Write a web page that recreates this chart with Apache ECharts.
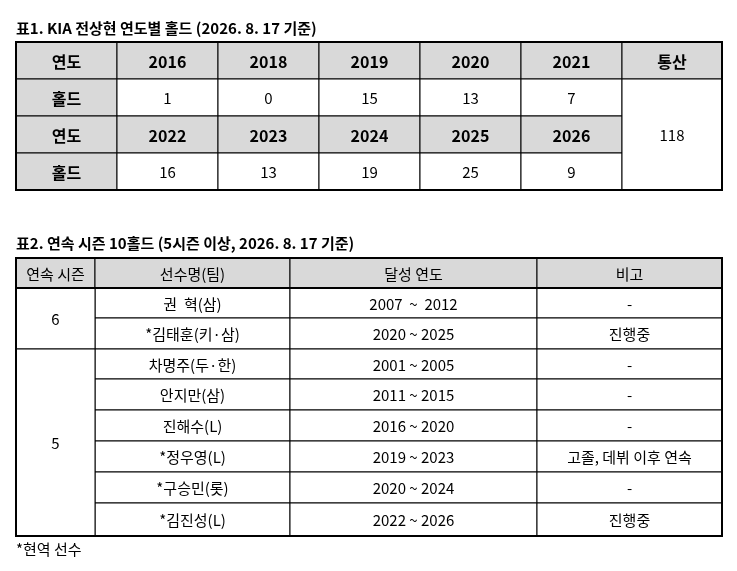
<!DOCTYPE html>
<html><head><meta charset="utf-8">
<script src="https://cdn.jsdelivr.net/npm/echarts@6/dist/echarts.min.js"></script>
<style>html,body{margin:0;background:#fff}#c{width:737px;height:571px}</style>
</head><body><div id="c"></div>
<script>
const title1 = '표1. KIA 전상현 연도별 홀드 (2026. 8. 17 기준)';
const years1 = ['2016','2018','2019','2020','2021'];
const holds1 = ['1','0','15','13','7'];
const years2 = ['2022','2023','2024','2025','2026'];
const holds2 = ['16','13','19','25','9'];
const totalLabel = '통산', total = '118';
const title2 = '표2. 연속 시즌 10홀드 (5시즌 이상, 2026. 8. 17 기준)';
const headers2 = ['연속 시즌','선수명(팀)','달성 연도','비고'];
const seasons = ['6','6','5','5','5','5','5','5'];
const players = ['권  혁(삼)','*김태훈(키·삼)','차명주(두·한)','안지만(삼)','진해수(L)','*정우영(L)','*구승민(롯)','*김진성(L)'];
const years = ['2007  ~  2012','2020 ~ 2025','2001 ~ 2005','2011 ~ 2015','2016 ~ 2020','2019 ~ 2023','2020 ~ 2024','2022 ~ 2026'];
const notes = ['-','진행중','-','-','-','고졸, 데뷔 이후 연속','-','진행중'];
const footnote = '*현역 선수';

const F = '"Noto Sans CJK KR", sans-serif';
const GRAY = '#d9d9d9';
const els = [];
function cell(x0,y0,x1,y1,text,fill,bold){
  els.push({type:'rect',shape:{x:x0,y:y0,width:x1-x0,height:y1-y0},style:{fill:fill||'#fff',stroke:'#000',lineWidth:1}});
  els.push({type:'text',x:(x0+x1)/2,y:(y0+y1)/2+1,style:{text:text,font:(bold?'bold 16px ':'15px ')+F,fill:'#000',align:'center',verticalAlign:'middle'}});
}
function frame(x0,y0,x1,y1){
  els.push({type:'rect',shape:{x:x0,y:y0,width:x1-x0,height:y1-y0},style:{fill:'none',stroke:'#000',lineWidth:2},z:10});
}
function label(x,y,t){els.push({type:'text',x:x,y:y,style:{text:t,font:'bold 15px '+F,fill:'#000',verticalAlign:'middle'}});}

// Table 1
label(16,28,title1);
const cx=[16,117,218,319,420,521,622,722], ry=[42,79,116,153,190];
const rows1=[['연도',...years1],['홀드',...holds1],['연도',...years2],['홀드',...holds2]];
rows1.forEach((r,i)=>r.forEach((t,j)=>{
  const g = (i%2===0)||j===0;
  cell(cx[j],ry[i],cx[j+1],ry[i+1],t,g?GRAY:'#fff',g);
}));
cell(cx[6],ry[0],cx[7],ry[1],totalLabel,GRAY,true);
cell(cx[6],ry[1],cx[7],ry[4],total,'#fff');
frame(16,42,722,190);

// Table 2
label(16,243,title2);
const c2=[16,95,290,537,722];
const r2=[258,288,318,349,379,410,441,472,503,536];
headers2.forEach((t,j)=>cell(c2[j],r2[0],c2[j+1],r2[1],t,GRAY));
for(let i=0;i<players.length;i++){
  cell(c2[1],r2[i+1],c2[2],r2[i+2],players[i]);
  cell(c2[2],r2[i+1],c2[3],r2[i+2],years[i]);
  cell(c2[3],r2[i+1],c2[4],r2[i+2],notes[i]);
}
let s=0;
while(s<seasons.length){let e=s;while(e+1<seasons.length&&seasons[e+1]===seasons[s])e++;
  cell(c2[0],r2[s+1],c2[1],r2[e+2],seasons[s]);s=e+1;}
frame(16,258,722,536);
els.push({type:'line',shape:{x1:16,y1:288,x2:722,y2:288},style:{stroke:'#000',lineWidth:2},z:10});
els.push({type:'text',x:16,y:549,style:{text:footnote,font:'15px '+F,fill:'#000',verticalAlign:'middle'}});

const chart=echarts.init(document.getElementById('c'));
chart.setOption({animation:false,graphic:{elements:els}});
</script></body></html>
